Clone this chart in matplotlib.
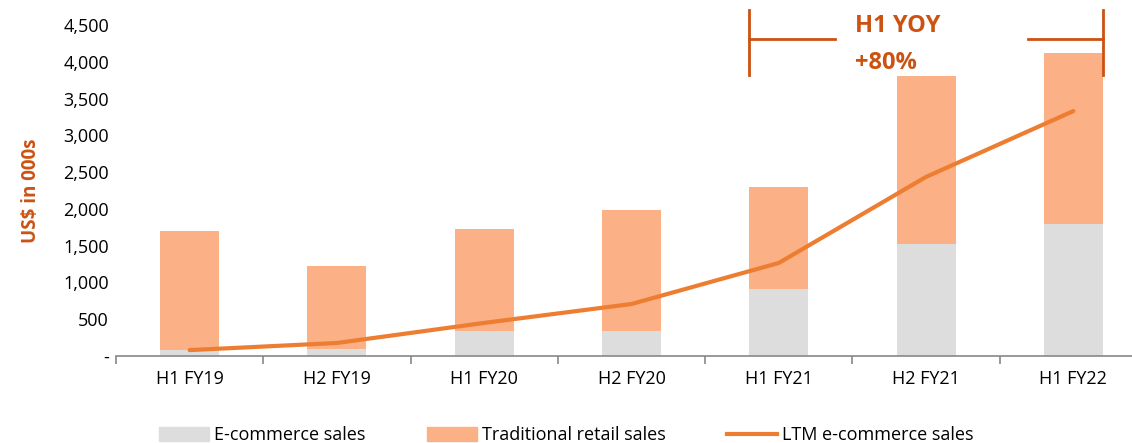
import matplotlib
matplotlib.use("Agg")
import matplotlib.pyplot as plt
from matplotlib.patches import Patch
from matplotlib.lines import Line2D
from matplotlib.ticker import FuncFormatter

periods = ["H1 FY19", "H2 FY19", "H1 FY20", "H2 FY20", "H1 FY21", "H2 FY21", "H1 FY22"]
total_sales = [1700, 1225, 1725, 1985, 2295, 3805, 4120]
ecommerce_sales = [80, 95, 340, 340, 910, 1525, 1795]
ltm_ecommerce = [80, 177, 450, 707, 1265, 2435, 3330]
traditional_sales = [t - e for t, e in zip(total_sales, ecommerce_sales)]

GREY = "#DDDDDD"
PEACH = "#FCB085"
LINE = "#ED7D31"
DARK = "#CC5212"

plt.rcParams["font.family"] = ["Open Sans", "DejaVu Sans"]

fig = plt.figure(figsize=(11.32, 4.43), dpi=100)
# axes run a little past the right edge, like the original
ax = fig.add_axes([116 / 1132, 87 / 443, 1031 / 1132, 331 / 443])

x = list(range(len(periods)))
width = 0.4
ax.bar(x, ecommerce_sales, width, color=GREY, zorder=2)
ax.bar(x, traditional_sales, width, bottom=ecommerce_sales, color=PEACH, zorder=2)
ax.plot(x, ltm_ecommerce, color=LINE, lw=3, zorder=3, solid_capstyle="round")

ax.set_xlim(-0.5, 6.5)
ax.set_ylim(0, 4500)
ax.set_yticks(range(0, 4501, 500))
ax.yaxis.set_major_formatter(FuncFormatter(lambda v, p: "-" if v == 0 else f"{int(v):,}"))
ax.set_xticks(x)
ax.set_xticklabels(periods)
ax.set_xticks([i - 0.5 for i in range(len(periods) + 1)], minor=True)
ax.tick_params(axis="x", which="major", length=0, pad=10, labelsize=13)
ax.tick_params(axis="x", which="minor", length=6, color="#888888", width=1.2)
ax.tick_params(axis="y", length=0, pad=5, labelsize=13)

for side in ["top", "right", "left"]:
    ax.spines[side].set_visible(False)
ax.spines["bottom"].set_color("#888888")
ax.spines["bottom"].set_linewidth(1.2)

ax.set_ylabel("US$ in 000s", color=DARK, fontweight="bold", fontsize=13.5, labelpad=16)

# H1 YOY bracket
x0, x1, yb = 3.8, 6.2, 4310
kw = dict(color=DARK, lw=2, clip_on=False)
ax.plot([x0, x0], [3820, 4700], **kw)
ax.plot([x1, x1], [3820, 4700], **kw)
ax.plot([x0, 4.38], [yb, yb], **kw)
ax.plot([5.69, x1], [yb, yb], **kw)
ax.text(4.52, 4480, "H1 YOY", color=DARK, fontweight="bold", fontsize=17, va="center")
ax.text(4.52, 3990, "+80%", color=DARK, fontweight="bold", fontsize=17, va="center")

handles = [
    Patch(color=GREY, label="E-commerce sales"),
    Patch(color=PEACH, label="Traditional retail sales"),
    Line2D([0], [0], color=LINE, lw=3, label="LTM e-commerce sales"),
]
fig.legend(handles=handles, loc="lower center", bbox_to_anchor=(0.5, -0.04), ncol=3,
           frameon=False, fontsize=13, handlelength=2.8, handleheight=0.8,
           columnspacing=3.4, handletextpad=0.25)

fig.savefig("out.png", dpi=100)
